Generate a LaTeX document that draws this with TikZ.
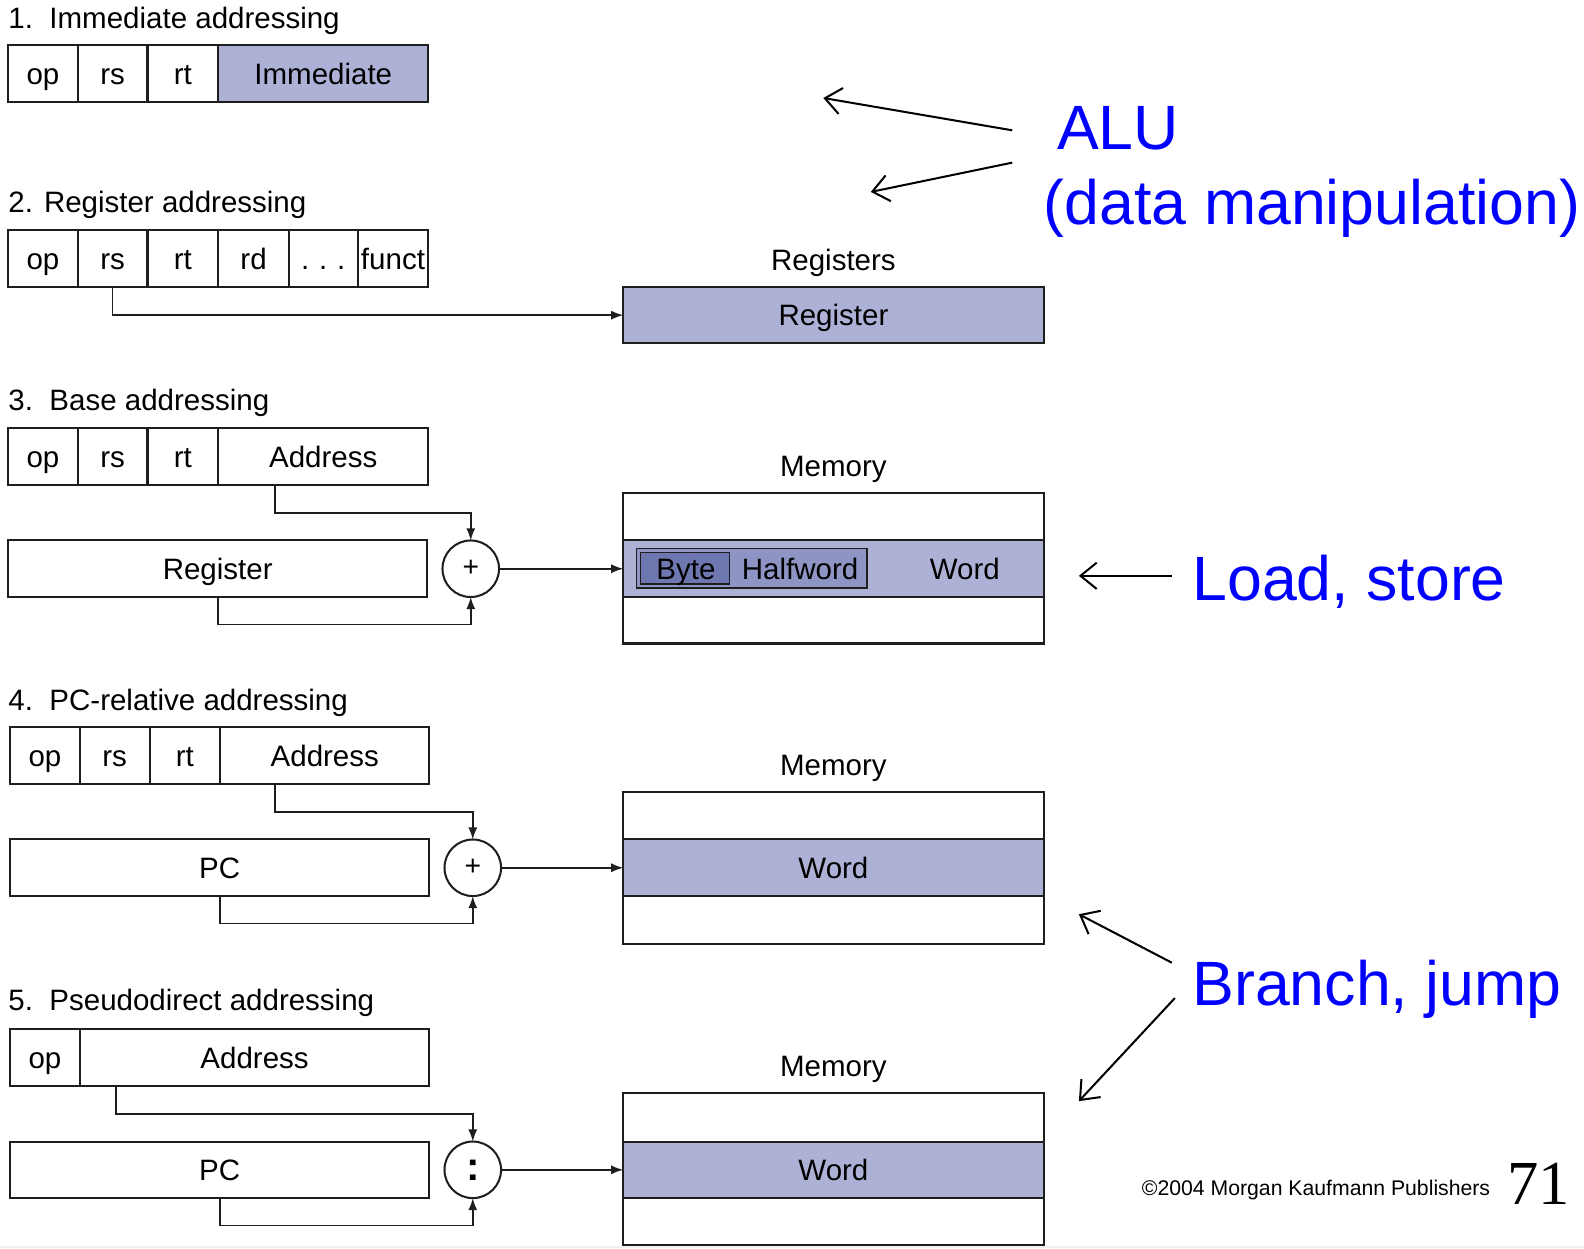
\documentclass[tikz,border=0pt]{standalone}
\usepackage{fontspec}
\setmainfont{Liberation Sans}
\newfontfamily\serifnum{Liberation Serif}
\usetikzlibrary{arrows.meta}
\definecolor{bandfill}{RGB}{173,177,214}
\definecolor{halffill}{RGB}{142,148,196}
\definecolor{bytefill}{RGB}{110,119,176}
\definecolor{annblue}{RGB}{0,0,255}
\definecolor{inkline}{RGB}{30,30,30}
\begin{document}
\begin{tikzpicture}[x=0.5pt,y=-0.5pt,
 cell/.style={draw=inkline, line width=1pt, minimum height=28pt, inner sep=0pt, outer sep=0pt,
   text height=10.4pt, text depth=0pt, font=\fontsize{14.6}{17}\selectfont},
 filled/.style={fill=bandfill},
 title/.style={anchor=base west, inner sep=0pt, font=\fontsize{14.6}{17}\selectfont},
 lbl/.style={inner sep=0pt, text height=10.4pt, text depth=0pt, font=\fontsize{14.6}{17}\selectfont},
 adder/.style={draw=inkline, line width=1pt, circle, minimum size=28pt, inner sep=0pt, outer sep=0pt,
   font=\fontsize{14}{16}\selectfont},
 conn/.style={draw=inkline, line width=0.8pt, -{Latex[length=6pt,width=4.5pt]}},
 memory/.style={draw=inkline, line width=1pt, minimum width=208pt, inner sep=0pt, outer sep=0pt},
 ann/.style={text=annblue, anchor=base west, inner sep=0pt, font=\fontsize{31}{36}\selectfont},
 annarrow/.style={line width=1pt, -{Straight Barb[length=8pt,width=13pt,line width=1pt]}}
]
\useasboundingbox[fill=white] (0,0) rectangle (1568,1235.4);
\fill[black!6] (0,1233) rectangle (1568,1235.4);

% ---------- 1. Immediate addressing
\node[title] (t1) at (8,28) {1.\ \ Immediate addressing};
\node[cell,minimum width=34.5pt] (i1op) at (42.5,73) {op};
\node[cell,minimum width=34.5pt] (i1rs) at (111.5,73) {rs};
\node[cell,minimum width=35pt] (i1rt) at (181,73) {rt};
\node[cell,filled,minimum width=104pt] (i1imm) at (320,73) {Immediate};

% ---------- 2. Register addressing
\node[title] (t2) at (8,210) {2. Register addressing};
\node[cell,minimum width=34.5pt] (i2op) at (42.5,256) {op};
\node[cell,minimum width=34.5pt] (i2rs) at (111.5,256) {rs};
\node[cell,minimum width=35pt] (i2rt) at (181,256) {rt};
\node[cell,minimum width=35pt] (i2rd) at (251,256) {rd};
\node[cell,minimum width=34pt] (i2dots) at (320,256) {.\,\,.\,\,.};
\node[cell,minimum width=35pt] (i2funct) at (389,256) {funct};
\node[lbl] (regslbl) at (825,257) {Registers};
\node[cell,filled,minimum width=208pt] (reg2) at (825,312) {Register};
\draw[conn] (i2rs.south) |- (reg2.west);

% ---------- 3. Base addressing
\node[title] (t3) at (8,406) {3.\ \ Base addressing};
\node[cell,minimum width=34.5pt] (i3op) at (42.5,452) {op};
\node[cell,minimum width=34.5pt] (i3rs) at (111.5,452) {rs};
\node[cell,minimum width=35pt] (i3rt) at (181,452) {rt};
\node[cell,minimum width=104pt] (i3addr) at (320,452) {Address};
\node[cell,minimum width=207.5pt] (reg3) at (215.5,563) {Register};
\node[adder] (add3) at (466,563) {+};
\node[lbl] (mem3lbl) at (825,461) {Memory};
\node[memory,minimum height=74.5pt] (mem3) at (825,562.5) {};
\node[cell,filled,minimum width=208pt] (mem3band) at (825,563) {};
\node[draw=inkline,line width=0.8pt,fill=halffill,minimum width=114pt,minimum height=19.5pt,inner sep=0pt] (half3) at (744,562.5) {};
\node[draw=inkline,line width=0.8pt,fill=bytefill,minimum width=44pt,minimum height=15.5pt,inner sep=0pt] (byte3) at (678,562.5) {};
\node[lbl] (bytetxt) at (679,563) {Byte};
\node[lbl] (halftxt) at (792,563) {Halfword};
\node[lbl] (wordtxt3) at (955,563) {Word};
\draw[conn] ([xshift=-24pt]i3addr.south) -- ++(0,28) -| (add3.north);
\draw[conn] (reg3.south) -- ++(0,27) -| (add3.south);
\draw[conn] (add3.east) -- (mem3band.west);

% ---------- 4. PC-relative addressing
\node[title] (t4) at (8,703) {4.\ \ PC-relative addressing};
\node[cell,minimum width=34.5pt] (i4op) at (44.5,748) {op};
\node[cell,minimum width=34.5pt] (i4rs) at (113.5,748) {rs};
\node[cell,minimum width=35pt] (i4rt) at (183,748) {rt};
\node[cell,minimum width=103.5pt] (i4addr) at (321.5,748) {Address};
\node[cell,minimum width=207.5pt] (pc4) at (217.5,859) {PC};
\node[adder] (add4) at (468,859) {+};
\node[lbl] (mem4lbl) at (825,757) {Memory};
\node[memory,minimum height=75pt] (mem4) at (825,859) {};
\node[cell,filled,minimum width=208pt] (mem4band) at (825,859) {Word};
\draw[conn] ([xshift=-24.75pt]i4addr.south) -- ++(0,28) -| (add4.north);
\draw[conn] (pc4.south) -- ++(0,27) -| (add4.south);
\draw[conn] (add4.east) -- (mem4band.west);

% ---------- 5. Pseudodirect addressing
\node[title] (t5) at (8,1000) {5.\ \ Pseudodirect addressing};
\node[cell,minimum width=34.5pt] (i5op) at (44.5,1047) {op};
\node[cell,minimum width=173pt] (i5addr) at (252,1047) {Address};
\node[cell,minimum width=207.5pt] (pc5) at (217.5,1158) {PC};
\node[adder,font=\fontsize{20}{22}\selectfont\bfseries] (cat5) at (468,1158) {:};
\node[lbl] (mem5lbl) at (825,1055) {Memory};
\node[memory,minimum height=75pt] (mem5) at (825,1157) {};
\node[cell,filled,minimum width=208pt] (mem5band) at (825,1158) {Word};
\draw[conn] ([xshift=-68.5pt]i5addr.south) -- ++(0,28) -| (cat5.north);
\draw[conn] (pc5.south) -- ++(0,27) -| (cat5.south);
\draw[conn] (cat5.east) -- (mem5band.west);

% ---------- annotations
\node[ann] (alu) at (1046,148) {ALU};
\node[ann] (datam) at (1033,222) {(data manipulation)};
\node[ann] (ldst) at (1180,594) {Load, store};
\node[ann] (brj) at (1180,995) {Branch, jump};
\coordinate (a1s) at (1002,129); \coordinate (a1e) at (815,97);
\coordinate (a2s) at (1002,161); \coordinate (a2e) at (862,190);
\coordinate (a3s) at (1160,570); \coordinate (a3e) at (1068,570);
\coordinate (a4s) at (1160,953); \coordinate (a4e) at (1068,905);
\coordinate (a5s) at (1163,988); \coordinate (a5e) at (1068,1090);
\draw[annarrow] (a1s) -- (a1e);
\draw[annarrow] (a2s) -- (a2e);
\draw[annarrow] (a3s) -- (a3e);
\draw[annarrow] (a4s) -- (a4e);
\draw[annarrow] (a5s) -- (a5e);

\node[anchor=base west, inner sep=0pt, font=\fontsize{10.5}{12}\selectfont] (copy) at (1130,1183) {\textcopyright 2004 Morgan Kaufmann Publishers};
\node[anchor=base west, inner sep=0pt, font=\serifnum\fontsize{31}{36}\selectfont] (pagenum) at (1492,1192) {71};
\end{tikzpicture}
\end{document}
